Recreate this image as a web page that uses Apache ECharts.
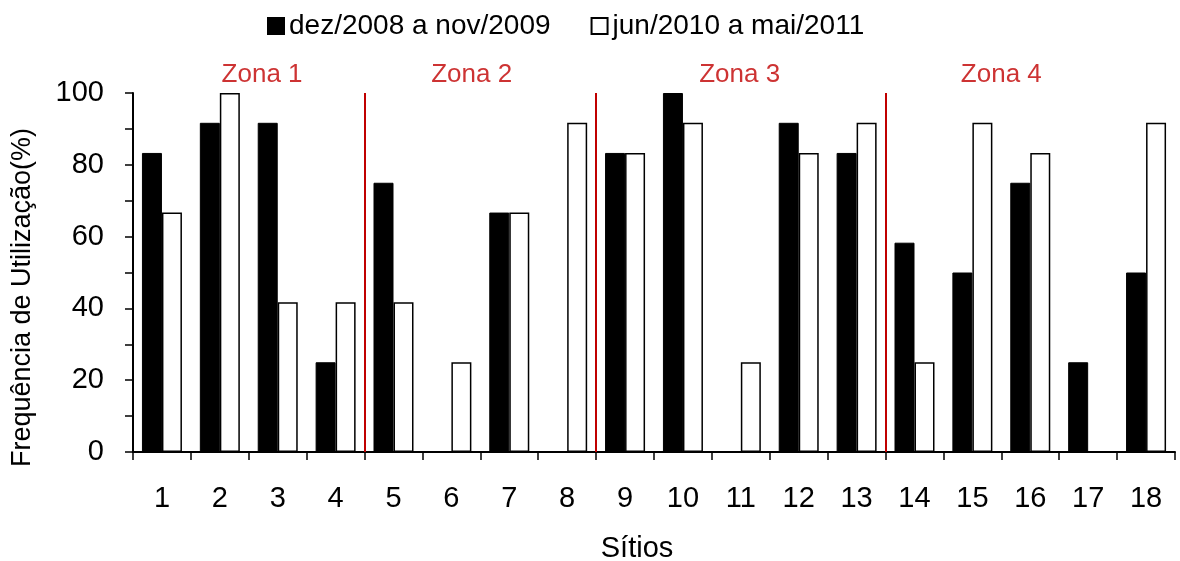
<!DOCTYPE html>
<html><head><meta charset="utf-8">
<script src="https://cdn.jsdelivr.net/npm/echarts@6/dist/echarts.min.js"></script>
<style>html,body{margin:0;padding:0;background:#fff}#c{width:1180px;height:561px}</style>
</head><body><div id="c"></div>
<script>
const categories = ['1','2','3','4','5','6','7','8','9','10','11','12','13','14','15','16','17','18'];
const series1Name = 'dez/2008 a nov/2009';
const series2Name = 'jun/2010 a mai/2011';
const series1 = [83.3, 91.7, 91.7, 25, 75, 0, 66.7, 0, 83.3, 100, 0, 91.7, 83.3, 58.3, 50, 75, 25, 50];
const series2 = [66.7, 100, 41.7, 41.7, 41.7, 25, 66.7, 91.7, 83.3, 91.7, 25, 83.3, 91.7, 25, 91.7, 83.3, 0, 91.7];
const zoneBoundaries = [4, 8, 13];
const zoneNames = ['Zona 1', 'Zona 2', 'Zona 3', 'Zona 4'];
const zoneLabelX = [2.23, 5.85, 10.48, 15.0];
const zoneLabelY = 105;
const yTicks = [0, 20, 40, 60, 80, 100];

const FONT = 'Liberation Sans, Arial, sans-serif';
const FS = 29;
const chart = echarts.init(document.getElementById('c'));
chart.setOption({
  animation: false,
  textStyle: { fontFamily: FONT },
  legend: {
    data: [series1Name, series2Name],
    left: 262, top: 7,
    icon: 'rect', itemWidth: 16, itemHeight: 16, itemGap: 40,
    textStyle: { fontSize: 28, color: '#000', fontFamily: FONT }
  },
  grid: { left: 133, right: 5, top: 93, bottom: 109, containLabel: false, outerBoundsMode: 'none' },
  xAxis: [{
    type: 'category', data: categories,
    name: 'Sítios', nameLocation: 'middle', nameGap: 82,
    nameTextStyle: { fontSize: FS, color: '#000', fontFamily: FONT, padding: [0, 34, 0, 0] },
    axisLine: { lineStyle: { color: '#000', width: 2 } },
    axisTick: { show: true, length: 8, inside: false, lineStyle: { color: '#000', width: 1.5 } },
    axisLabel: { fontSize: FS, color: '#000', margin: 32, fontFamily: FONT },
    splitLine: { show: false }
  }, {
    type: 'value', min: 0, max: 18, show: false
  }],
  yAxis: {
    type: 'value', min: 0, max: 100, interval: 20,
    name: 'Frequência de Utilização(%)', nameLocation: 'middle', nameGap: 97,
    nameTextStyle: { fontSize: 27, color: '#000', fontFamily: FONT, padding: [0, 50, 0, 0] },
    axisLine: { show: true, lineStyle: { color: '#000', width: 2 } },
    axisTick: { show: true, length: 8, lineStyle: { color: '#000', width: 1.5 } },
    minorTick: { show: true, splitNumber: 2, length: 8, lineStyle: { color: '#000', width: 1.5 } },
    axisLabel: { fontSize: FS, color: '#000', margin: 29, fontFamily: FONT,
      formatter: v => yTicks.includes(v) ? String(v) : '' },
    splitLine: { show: false }
  },
  series: [
    { name: series1Name, type: 'bar', data: series1, barWidth: 20, barGap: '0%',
      itemStyle: { color: '#000', borderColor: '#000', borderWidth: 1 } },
    { name: series2Name, type: 'bar', data: series2, barWidth: 20,
      itemStyle: { color: '#fff', borderColor: '#000', borderWidth: 1.5 } },
    { name: 'zonas', type: 'line', xAxisIndex: 1, data: [], silent: true,
      markLine: { symbol: 'none', silent: true, label: { show: false },
        lineStyle: { color: '#c00000', width: 2, type: 'solid' },
        data: zoneBoundaries.map(b => ({ xAxis: b })) } },
    { name: 'zonaLabels', type: 'scatter', xAxisIndex: 1, clip: false, symbolSize: 0, silent: true,
      data: zoneNames.map((n, i) => ({ name: n, value: [zoneLabelX[i], zoneLabelY] })),
      label: { show: true, position: 'inside', formatter: p => p.name,
        fontSize: 26, color: '#c00000', fontFamily: FONT } }
  ]
});
</script></body></html>
